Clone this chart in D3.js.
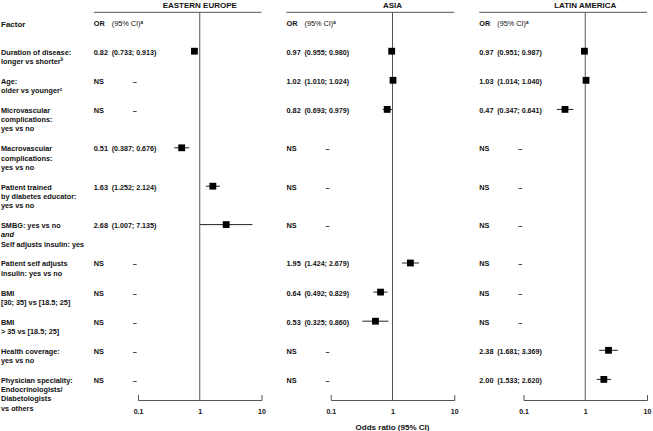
<!DOCTYPE html>
<html>
<head>
<meta charset="utf-8">
<script src="https://cdn.jsdelivr.net/npm/d3@7"></script>
<style>
  body { margin: 0; background: #fff; }
  svg text { font-family: "Liberation Sans", Arial, sans-serif; font-weight: bold; fill: #111; }
</style>
</head>
<body>
<div id="chart"></div>
<script>
// regions shown as panels
const regions = ["EASTERN EUROPE", "ASIA", "LATIN AMERICA"];

// factor labels, one entry per line: [text, superscript, "it" for italic]
const factors = [
    [["Duration of disease:"], ["longer vs shorter", "b"]],
    [["Age:"], ["older vs younger", "c"]],
    [["Microvascular"], ["complications:"], ["yes vs no"]],
    [["Macrovascular"], ["complications:"], ["yes vs no"]],
    [["Patient trained"], ["by diabetes educator:"], ["yes vs no"]],
    [["SMBG: yes vs no"], ["and", null, "it"], ["Self adjusts insulin: yes"]],
    [["Patient self adjusts"], ["insulin: yes vs no"]],
    [["BMI"], ["[30; 35] vs [18.5; 25]"]],
    [["BMI"], ["> 35 vs [18.5; 25]"]],
    [["Health coverage:"], ["yes vs no"]],
    [["Physician speciality:"], ["Endocrinologists/"], ["Diabetologists"], ["vs others"]]
];

// odds ratios [or, lo, hi], null = NS
const eastEurope = [
    [0.82, 0.733, 0.913], null, null, [0.51, 0.387, 0.676], [1.63, 1.252, 2.124],
    [2.68, 1.007, 7.135], null, null, null, null, null
];
const asia = [
    [0.97, 0.955, 0.980], [1.02, 1.010, 1.024], [0.82, 0.693, 0.979], null, null,
    null, [1.95, 1.424, 2.679], [0.64, 0.492, 0.829], [0.53, 0.325, 0.860], null, null
];
const latinAmerica = [
    [0.97, 0.951, 0.987], [1.03, 1.014, 1.040], [0.47, 0.347, 0.641], null, null,
    null, null, null, null, [2.38, 1.681, 3.369], [2.00, 1.533, 2.620]
];
const seriesByRegion = [eastEurope, asia, latinAmerica];
const orTicks = [0.1, 1, 10];

const width = 653, height = 431;
const lineH = 9.3, rowGap = 10.5, firstRow = 52;
const axisY = 400, headY = 12.3;
const panelW = 123.5;

const svg = d3.select("#chart").append("svg")
    .attr("width", width)
    .attr("height", height);

// row positions from the number of label lines
const rowY = [];
factors.reduce((y, f) => { rowY.push(y); return y + f.length * lineH + rowGap; }, firstRow);

// left edge (OR = 0.1) of each panel
const panelX = d3.scaleLinear().domain([0, regions.length - 1]).range([138, 523.5]);
const fmt = d3.format(".2f"), fmt3 = d3.format(".3f");

// factor column
svg.append("text").attr("x", 1).attr("y", 26.8)
    .style("font-size", "8px").text("Factor");

factors.forEach((f, i) => {
    const t = svg.append("text")
        .attr("x", 1).attr("y", rowY[i] + 2.6)
        .style("font-size", "7.3px");
    f.forEach((ln, k) => {
        const sp = t.append("tspan").attr("x", 1).attr("dy", k === 0 ? 0 : lineH)
            .text(ln[0]);
        if (ln[2] === "it") sp.style("font-style", "italic");
        if (ln[1]) {
            t.append("tspan").attr("dy", -2.5).style("font-size", "4.5px").text(ln[1]);
            t.append("tspan").attr("dy", 2.5).text("");
        }
    });
});

regions.forEach((name, p) => {
    const x = d3.scaleLog().domain([0.1, 10]).range([panelX(p), panelX(p) + panelW]);
    const one = x(1);
    const orX = one - 106, ciX = one - 88;
    const g = svg.append("g");
    const data = seriesByRegion[p];

    g.append("text").attr("x", one).attr("y", 7.5)
        .attr("text-anchor", "middle").style("font-size", "8px").text(name);

    g.append("line")
        .attr("x1", orX).attr("x2", x(10))
        .attr("y1", headY).attr("y2", headY)
        .attr("stroke", "#555").attr("stroke-width", 1);

    g.append("text").attr("x", orX).attr("y", 26).style("font-size", "7.3px").text("OR");
    const ci = g.append("text").attr("x", ciX).attr("y", 26).style("font-size", "7.3px");
    ci.append("tspan").style("font-weight", "normal").text("(95% CI)");
    ci.append("tspan").attr("dy", -2.5).style("font-size", "4.5px").text("a");

    // reference line at OR = 1
    g.append("line")
        .attr("x1", one).attr("x2", one)
        .attr("y1", headY).attr("y2", axisY)
        .attr("stroke", "#555").attr("stroke-width", 1);

    data.forEach((d, i) => {
        const y = rowY[i];
        g.append("text").attr("x", orX).attr("y", y + 2.6)
            .style("font-size", "7.3px").text(d ? fmt(d[0]) : "NS");
        if (d) {
            g.append("text").attr("x", ciX).attr("y", y + 2.6)
                .style("font-size", "7.1px")
                .text(`(${fmt3(d[1])}; ${fmt3(d[2])})`);
            g.append("line")
                .attr("x1", x(d[1])).attr("x2", x(d[2]))
                .attr("y1", y - 0.8).attr("y2", y - 0.8)
                .attr("stroke", "#222").attr("stroke-width", 1);
            g.append("rect")
                .attr("x", x(d[0]) - 3.4).attr("y", y - 0.8 - 3.4)
                .attr("width", 6.8).attr("height", 6.8)
                .attr("fill", "#000");
        } else {
            g.append("text").attr("x", ciX + 21).attr("y", y + 2.6)
                .style("font-size", "7.3px").text("–");
        }
    });

    const axis = g.append("g")
        .attr("transform", `translate(0,${axisY})`)
        .call(d3.axisBottom(x).tickValues(orTicks).tickFormat(d => String(d))
            .tickSizeInner(0).tickSizeOuter(-5).tickPadding(9));
    axis.select(".domain").attr("stroke", "#555");
    axis.selectAll("text")
        .style("font-family", "'Liberation Sans', Arial, sans-serif")
        .style("font-weight", "bold").style("font-size", "7px").attr("fill", "#111");
});

svg.append("text")
    .attr("x", panelX(1) + panelW / 2).attr("y", 429.5)
    .attr("text-anchor", "middle").style("font-size", "8px")
    .text("Odds ratio (95% CI)");
</script>
</body>
</html>
